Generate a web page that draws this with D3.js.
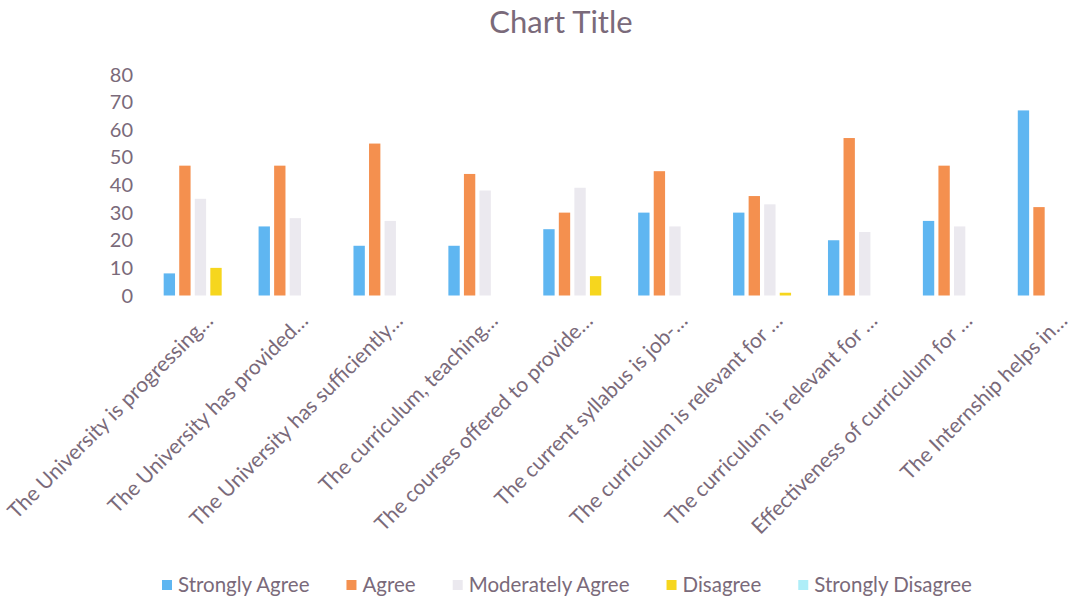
<!DOCTYPE html>
<html>
<head>
<meta charset="utf-8">
<script src="https://cdn.jsdelivr.net/npm/d3@7"></script>
<style>
  body { margin: 0; background: #fff; overflow: hidden; }
  text { font-family: Lato, "Noto Sans", sans-serif; fill: #7a6a7a; }
</style>
</head>
<body>
<script>
const width = 1073;
const height = 600;

const categories = [
    "The University is progressing…",
    "The University has provided…",
    "The University has sufficiently…",
    "The curriculum, teaching…",
    "The courses offered to provide…",
    "The current syllabus is job-…",
    "The curriculum is relevant for …",
    "The curriculum is relevant for …",
    "Effectiveness of curriculum for …",
    "The Internship helps in…"
];

const seriesNames = ["Strongly Agree", "Agree", "Moderately Agree", "Disagree", "Strongly Disagree"];
const stronglyAgree = [8, 25, 18, 18, 24, 30, 30, 20, 27, 67];
const agree = [47, 47, 55, 44, 30, 45, 36, 57, 47, 32];
const moderatelyAgree = [35, 28, 27, 38, 39, 25, 33, 23, 25, 0];
const disagree = [10, 0, 0, 0, 7, 0, 1, 0, 0, 0];
const stronglyDisagree = [0, 0, 0, 0, 0, 0, 0, 0, 0, 0];
const yTicks = [0, 10, 20, 30, 40, 50, 60, 70, 80];

const colors = ["#5fb6f1", "#f4904f", "#ebe9ef", "#f6d61e", "#aeeef8"];
const seriesValues = [stronglyAgree, agree, moderatelyAgree, disagree, stronglyDisagree];

const svg = d3.select("body").append("svg")
    .attr("width", width)
    .attr("height", height);

// plot area runs past the right edge, like the cropped original
const x0 = d3.scaleBand()
    .domain(d3.range(categories.length))
    .range([153, 1102])
    .paddingInner(0.225)
    .paddingOuter(0.1125);

const x1 = d3.scaleBand()
    .domain(d3.range(seriesNames.length))
    .range([0, x0.bandwidth()])
    .paddingInner(0.27);

const y = d3.scaleLinear()
    .domain([0, 80])
    .range([295.5, 74.5]);

svg.append("text")
    .attr("x", 561)
    .attr("y", 33)
    .attr("text-anchor", "middle")
    .style("font-size", "31px")
    .text("Chart Title");

// y axis labels only
svg.append("g")
    .selectAll("text")
    .data(yTicks)
    .enter().append("text")
    .attr("x", 133)
    .attr("y", d => y(d))
    .attr("dy", "0.35em")
    .attr("text-anchor", "end")
    .style("font-size", "20px")
    .text(d => d);

const groups = svg.append("g")
    .selectAll("g")
    .data(categories)
    .enter().append("g")
    .attr("transform", (d, i) => `translate(${x0(i)},0)`);

groups.selectAll("rect")
    .data((d, i) => seriesValues.map((s, k) => ({ k: k, v: s[i] })))
    .enter().append("rect")
    .attr("x", d => x1(d.k))
    .attr("y", d => y(d.v))
    .attr("width", x1.bandwidth())
    .attr("height", d => y(0) - y(d.v))
    .attr("fill", d => colors[d.k]);

// rotated category labels
const step = x0.step();
svg.append("g")
    .selectAll("text")
    .data(categories)
    .enter().append("text")
    .attr("transform", (d, i) => `translate(${153 + step * (i + 0.5) + 14},${322}) rotate(-45)`)
    .attr("text-anchor", "end")
    .style("font-size", "21px")
    .text(d => d);

// legend, laid out left to right
const legend = svg.append("g")
    .selectAll("g")
    .data(seriesNames)
    .enter().append("g");

legend.append("rect")
    .attr("x", 0)
    .attr("y", -5)
    .attr("width", 10)
    .attr("height", 10)
    .attr("fill", (d, i) => colors[i]);

legend.append("text")
    .attr("x", 16)
    .attr("dy", "0.35em")
    .style("font-size", "20.5px")
    .text(d => d);

let lx = 162;
legend.each(function() {
    const g = d3.select(this);
    g.attr("transform", `translate(${lx},585)`);
    lx += 16 + g.select("text").node().getComputedTextLength() + 37;
});
</script>
</body>
</html>
